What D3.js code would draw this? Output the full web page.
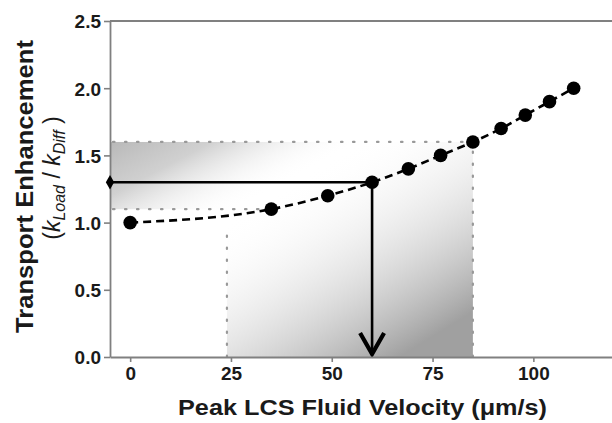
<!DOCTYPE html>
<html><head><meta charset="utf-8">
<script src="https://cdn.jsdelivr.net/npm/d3@7"></script>
<style>body{margin:0;background:#fff}svg{display:block}</style>
</head><body>
<script>
const velocity = [0, 35, 49, 60, 69, 77, 85, 92, 98, 104, 110];
const enhancement = [1.0, 1.1, 1.2, 1.3, 1.4, 1.5, 1.6, 1.7, 1.8, 1.9, 2.0];
const xTicks = [0, 25, 50, 75, 100];
const yTicks = [0, 0.5, 1.0, 1.5, 2.0, 2.5];
const readout = {x: 60, y: 1.3};
const bandY = [1.1, 1.6];
const bandX = [24, 85];
const bandYEndX = [35, 85];

const W = 612, H = 423;
const svg = d3.select("body").append("svg").attr("width", W).attr("height", H);
const x = d3.scaleLinear().domain([-5, 120]).range([110, 614]);
const y = d3.scaleLinear().domain([0, 2.5]).range([357, 21]);
const FONT = "Liberation Sans, Arial, sans-serif";

const defs = svg.append("defs");
const gH = defs.append("linearGradient").attr("id","gH").attr("x1",0).attr("y1",0).attr("x2",1).attr("y2",0.35);
gH.append("stop").attr("offset",0).attr("stop-color","#b8b8b8").attr("stop-opacity",1);
gH.append("stop").attr("offset",0.25).attr("stop-color","#c8c8c8").attr("stop-opacity",0.85);
gH.append("stop").attr("offset",0.62).attr("stop-color","#ffffff").attr("stop-opacity",0);
const gV = defs.append("linearGradient").attr("id","gV").attr("x1",0).attr("y1",0).attr("x2",0.7).attr("y2",1);
gV.append("stop").attr("offset",0.25).attr("stop-color","#ffffff").attr("stop-opacity",0);
gV.append("stop").attr("offset",1).attr("stop-color","#a0a0a0").attr("stop-opacity",1);

// shaded bands
svg.append("rect").attr("x", x(bandX[0])).attr("y", y(bandY[1]))
  .attr("width", x(bandX[1]) - x(bandX[0])).attr("height", y(0) - y(bandY[1]))
  .attr("fill","url(#gV)");
svg.append("rect").attr("x", x(-5)).attr("y", y(bandY[1]))
  .attr("width", x(bandX[1]) - x(-5)).attr("height", y(bandY[0]) - y(bandY[1]))
  .attr("fill","url(#gH)");

// dotted guide lines
const dot = {stroke:"#999", "stroke-width":2.2, "stroke-dasharray":"1.5,10.5", "stroke-linecap":"round"};
function dline(x1,y1,x2,y2){const l=svg.append("line").attr("x1",x1).attr("y1",y1).attr("x2",x2).attr("y2",y2);for(const k in dot)l.attr(k,dot[k]);}
dline(x(-5)+3, y(bandY[1]), x(bandYEndX[1]), y(bandY[1]));
dline(x(-5)+3, y(bandY[0]), x(bandYEndX[0]), y(bandY[0]));
dline(x(bandX[0]), y(0), x(bandX[0]), y(0.95));
dline(x(bandX[1]), y(0), x(bandX[1]), y(bandY[1]));

// dashed fitted curve
const line = d3.line().x((d,i)=>x(velocity[i])).y(d=>y(d)).curve(d3.curveMonotoneX);
svg.append("path").attr("d", line(enhancement)).attr("fill","none")
  .attr("stroke","#000").attr("stroke-width",2.6).attr("stroke-dasharray","8,5");

// readout lines
svg.append("line").attr("x1", x(-5)).attr("y1", y(readout.y)).attr("x2", x(readout.x)).attr("y2", y(readout.y))
  .attr("stroke","#000").attr("stroke-width",2.6);
svg.append("line").attr("x1", x(readout.x)).attr("y1", y(readout.y)).attr("x2", x(readout.x)).attr("y2", y(0)-2)
  .attr("stroke","#000").attr("stroke-width",2.6);
svg.append("path").attr("d", `M${x(readout.x)-12},${y(0)-24}L${x(readout.x)},${y(0)-3}L${x(readout.x)+12},${y(0)-24}`)
  .attr("fill","none").attr("stroke","#000").attr("stroke-width",4.2).attr("stroke-linejoin","miter");

// points
svg.selectAll("circle.pt").data(enhancement).enter().append("circle").attr("class","pt")
  .attr("cx",(d,i)=>x(velocity[i])).attr("cy",d=>y(d)).attr("r",6.8).attr("fill","#000");

// axes
const axCol = "#808080";
const gx = svg.append("g").attr("transform", `translate(0,${y(0)})`)
  .call(d3.axisBottom(x).tickValues(xTicks).tickSize(5).tickSizeOuter(0).tickPadding(5));
const gy = svg.append("g").attr("transform", `translate(${x(-5)},0)`)
  .call(d3.axisLeft(y).tickValues(yTicks).tickFormat(d3.format(".1f")).tickSize(6).tickSizeOuter(0).tickPadding(3));
[gx, gy].forEach(g => {
  g.select(".domain").attr("stroke", axCol).attr("stroke-width", 1.8);
  g.selectAll(".tick line").attr("stroke", axCol).attr("stroke-width", 1.6);
  g.selectAll("text").attr("font-family",FONT)
    .attr("font-weight","bold").attr("font-size",19).attr("fill","#1a1a1a");
});
gy.selectAll(".tick text").attr("dy","0.36em");
// top border
svg.append("line").attr("x1", x(-5)).attr("x2", W).attr("y1", y(2.5)).attr("y2", y(2.5))
  .attr("stroke", axCol).attr("stroke-width", 1.8);

// diamond marker
svg.append("path").attr("d", d3.symbol().type(d3.symbolDiamond).size(60)())
  .attr("transform", `translate(${x(-5)},${y(readout.y)})`).attr("fill","#000");

// titles
svg.append("text").attr("x", 178).attr("y", 415)
  .attr("font-family",FONT).attr("font-weight","bold")
  .attr("font-size",22).attr("fill","#1a1a1a")
  .attr("textLength",369).attr("lengthAdjust","spacingAndGlyphs")
  .text("Peak LCS Fluid Velocity (μm/s)");
svg.append("text").attr("transform","translate(33,333) rotate(-90)")
  .attr("font-family",FONT).attr("font-weight","bold")
  .attr("font-size",23).attr("fill","#1a1a1a")
  .attr("textLength",293).attr("lengthAdjust","spacingAndGlyphs")
  .text("Transport Enhancement");
const t2 = svg.append("text").attr("transform","translate(60,178) rotate(-90)").attr("text-anchor","middle")
  .attr("font-family",FONT).attr("font-size",23).attr("fill","#1a1a1a");
t2.append("tspan").text("(");
t2.append("tspan").attr("font-style","italic").text("k");
t2.append("tspan").attr("font-style","italic").attr("font-size",16).attr("dy",5).text("Load");
t2.append("tspan").attr("dy",-5).text(" / ");
t2.append("tspan").attr("font-style","italic").text("k");
t2.append("tspan").attr("font-style","italic").attr("font-size",16).attr("dy",5).text("Diff");
t2.append("tspan").attr("dy",-5).text(" )");
</script>
</body></html>
